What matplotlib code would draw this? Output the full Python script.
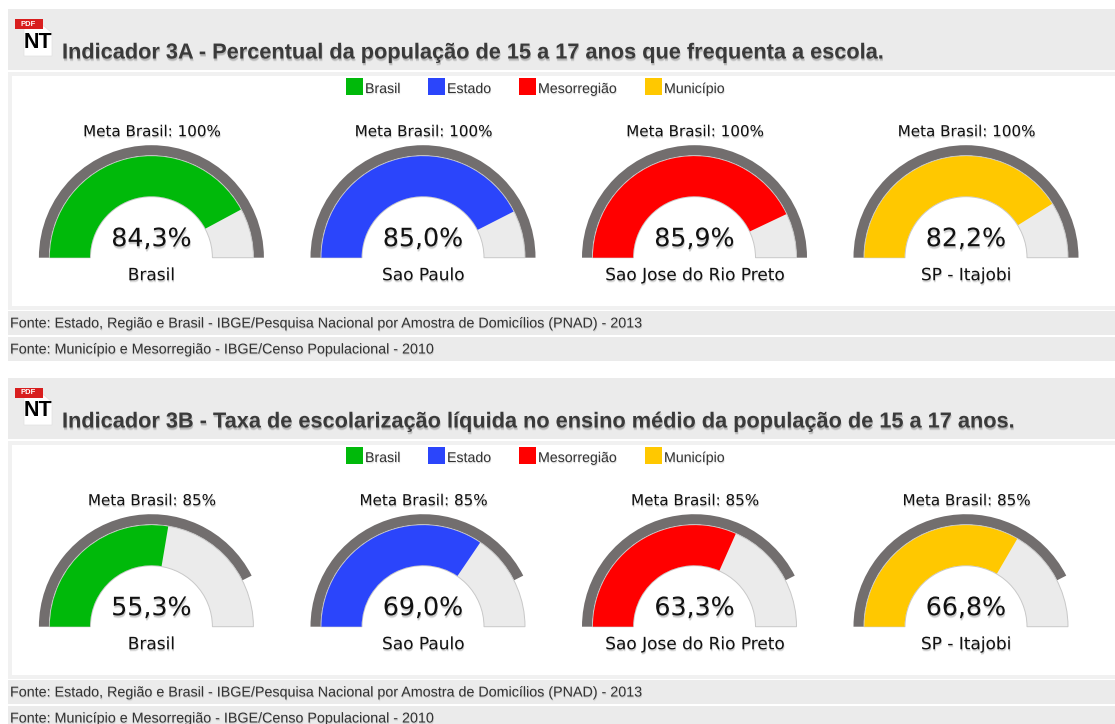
import matplotlib
matplotlib.use("Agg")
import matplotlib.pyplot as plt
from matplotlib.patches import Wedge, Rectangle, Polygon
import matplotlib.patheffects as pe

titles = ["Indicador 3A - Percentual da população de 15 a 17 anos que frequenta a escola.",
          "Indicador 3B - Taxa de escolarização líquida no ensino médio da população de 15 a 17 anos."]
regions = ["Brasil", "Sao Paulo", "Sao Jose do Rio Preto", "SP - Itajobi"]
legend_labels = ["Brasil", "Estado", "Mesorregião", "Município"]
colors = ["#00b90a", "#2b45fb", "#ff0000", "#ffc800"]
values_3a = [84.3, 85.0, 85.9, 82.2]
values_3b = [55.3, 69.0, 63.3, 66.8]
targets = [100, 85]
fontes = ["Fonte: Estado, Região e Brasil - IBGE/Pesquisa Nacional por Amostra de Domicílios (PNAD) - 2013",
          "Fonte: Município e Mesorregião - IBGE/Censo Populacional - 2010"]

W, H = 1115, 724
fig = plt.figure(figsize=(W/100, H/100), dpi=100, facecolor="white")
ax = fig.add_axes([0, 0, 1, 1])
ax.set_xlim(0, W); ax.set_ylim(H, 0); ax.axis("off")

def stext(x, y, s, size, color="#111111", ha="center", family="DejaVu Sans", weight="normal", sh=1.5, alpha=0.22):
    # soft drop shadow built from path effects (offsets in points; sh is in pixels)
    k = 0.72
    effects = [pe.SimplePatchShadow(offset=(dx*k, -dy*k), shadow_rgbFace="#666666", alpha=a)
               for dx, dy, a in ((0.6, sh+0.8, alpha*0.5), (0.6, sh, alpha), (0.0, sh*0.5, alpha*0.5))]
    ax.text(x, y, s, fontsize=size, color=color, ha=ha, va="center_baseline", family=family, weight=weight,
            zorder=7, path_effects=effects + [pe.Normal()])

def rect(x0, y0, x1, y1, c, z=1):
    ax.add_patch(Rectangle((x0, y0), x1-x0, y1-y0, fc=c, ec="none", zorder=z))

def gauge(cx, cy, value, target, color):
    # y axis is inverted, so 180 (left) sweeps through 270 (top) to 360 (right)
    R_out, R_mid, R_in = 112.5, 102, 61
    a_val = 180 + 180*value/100
    a_tgt = 180 + 180*target/100
    ax.add_patch(Wedge((cx, cy), R_out, 180, a_tgt, width=R_out-R_mid, fc="#726e6e", ec="none", zorder=3))
    ax.add_patch(Wedge((cx, cy), R_mid, 180, 360, width=R_mid-R_in, fc="#ebebeb", ec="#c8c8c8", lw=0.7, zorder=4))
    ax.add_patch(Wedge((cx, cy), R_mid-0.4, 180, a_val, width=R_mid-R_in-0.8, fc=color, ec="none", zorder=5))

centers = [151.4, 423, 694.5, 966]
legend_sw = [346, 428, 519, 645]
blocks = [(9, values_3a, targets[0]), (378, values_3b, targets[1])]
for i, (y0, vals, tgt) in enumerate(blocks):
    base = y0 + 248.7
    rect(8, y0, W, y0+61, "#ebebeb")
    rect(8, y0+63, W, y0+301, "#f1f1f1")
    rect(12, y0+67, W, y0+297, "white")
    rect(8, y0+302, W, y0+326, "#ebebeb")
    rect(8, y0+328, W, y0+352, "#ebebeb")
    # title and PDF icon
    stext(62, y0+41.5, titles[i], 15.65, color="#3a3a3a", ha="left", family="Liberation Sans", weight="bold", sh=2, alpha=0.25)
    ax.add_patch(Polygon([(24, y0+17), (44, y0+17), (52, y0+24), (52, y0+47), (24, y0+47)], fc="white", ec="#e0e0e0", lw=0.5, zorder=2))
    rect(15, y0+9.5, 43, y0+20, "#d81e1e", 3)
    ax.text(28.5, y0+15, "PDF", fontsize=5.5, color="white", ha="center", va="center", family="Liberation Sans", weight="bold", zorder=4)
    ax.text(38, y0+33, "NT", fontsize=15.5, color="black", ha="center", va="center", family="Liberation Sans", weight="bold", zorder=4)
    # legend
    for sx, lab, c in zip(legend_sw, legend_labels, colors):
        rect(sx, y0+69, sx+16.5, y0+86, c, 3)
        stext(sx+19, y0+78.5, lab, 10.2, color="#333333", ha="left", family="Liberation Sans", sh=1, alpha=0.15)
    # gauges
    for cx, v, c, r in zip(centers, vals, colors, regions):
        gauge(cx, base, v, tgt, c)
        stext(cx+0.5, base-127.5, f"Meta Brasil: {tgt}%", 10.9)
        stext(cx, base-21, f"{v:.1f}%".replace(".", ","), 18.2, sh=2)
        stext(cx, base+15.5, r, 12.2)
    # sources
    for j, f in enumerate(fontes):
        stext(10, y0+313+26*j, f, 10.3, color="#333333", ha="left", family="Liberation Sans", sh=1, alpha=0.15)

fig.savefig("out.png", dpi=100)
